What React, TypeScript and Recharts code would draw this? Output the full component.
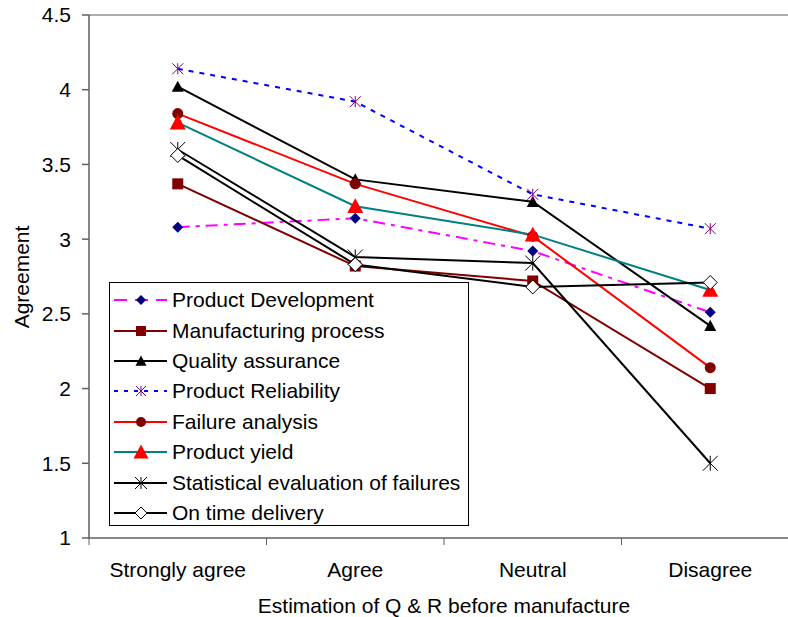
import React from "react";
import { LineChart, Line, XAxis, YAxis, ReferenceLine } from "recharts";

const categories = ["Strongly agree", "Agree", "Neutral", "Disagree"];
const yTicks = [1, 1.5, 2, 2.5, 3, 3.5, 4, 4.5];

const productDevelopment = [3.08, 3.14, 2.92, 2.51];
const manufacturingProcess = [3.37, 2.82, 2.72, 2.0];
const qualityAssurance = [4.02, 3.4, 3.25, 2.42];
const productReliability = [4.14, 3.92, 3.3, 3.07];
const failureAnalysis = [3.84, 3.37, 3.02, 2.14];
const productYield = [3.78, 3.22, 3.03, 2.66];
const statisticalEvaluation = [3.6, 2.88, 2.84, 1.5];
const onTimeDelivery = [3.56, 2.83, 2.68, 2.71];

const data = categories.map((name, i) => ({
  name,
  dev: productDevelopment[i],
  manuf: manufacturingProcess[i],
  quality: qualityAssurance[i],
  reliab: productReliability[i],
  failure: failureAnalysis[i],
  yieldv: productYield[i],
  stat: statisticalEvaluation[i],
  ontime: onTimeDelivery[i],
}));

const FONT = "'Liberation Sans', Arial, sans-serif";
const FS = 21;
const W = 800;
const H = 617;
const LEFT = 89;
const RIGHT = 1;
const BAND = (W - LEFT - RIGHT) / categories.length;

type Shape = "diamond" | "square" | "triangle" | "star" | "circle" | "xstar" | "odiamond";

function Marker({ shape, cx, cy, size, fill, stroke }: { shape: Shape; cx: number; cy: number; size: number; fill: string; stroke?: string }) {
  const h = size / 2;
  switch (shape) {
    case "diamond":
      return <polygon points={`${cx},${cy - h} ${cx + h},${cy} ${cx},${cy + h} ${cx - h},${cy}`} fill={fill} />;
    case "odiamond":
      return <polygon points={`${cx},${cy - h} ${cx + h},${cy} ${cx},${cy + h} ${cx - h},${cy}`} fill="#fff" stroke={stroke} strokeWidth={1} />;
    case "square":
      return <rect x={cx - h} y={cy - h} width={size} height={size} fill={fill} />;
    case "triangle":
      return <polygon points={`${cx},${cy - h} ${cx + h},${cy + h * 0.85} ${cx - h},${cy + h * 0.85}`} fill={fill} />;
    case "circle":
      return <circle cx={cx} cy={cy} r={h} fill={fill} />;
    case "star":
    case "xstar":
      return (
        <g stroke={fill} strokeWidth={1}>
          <line x1={cx - h} y1={cy - h} x2={cx + h} y2={cy + h} />
          <line x1={cx - h} y1={cy + h} x2={cx + h} y2={cy - h} />
          <line x1={cx} y1={cy - h} x2={cx} y2={cy + h} />
        </g>
      );
  }
  return null;
}

const series = [
  { key: "dev", label: "Product Development", color: "#FF00FF", dash: "12 6 4 6", lDash: "13 8", shape: "diamond" as Shape, mColor: "#000080", size: 11, lSize: 10 },
  { key: "manuf", label: "Manufacturing process", color: "#800000", dash: undefined, lDash: undefined, shape: "square" as Shape, mColor: "#800000", size: 11, lSize: 10 },
  { key: "quality", label: "Quality assurance", color: "#000000", dash: undefined, lDash: undefined, shape: "triangle" as Shape, mColor: "#000000", size: 12, lSize: 11 },
  { key: "reliab", label: "Product Reliability", color: "#0000FF", dash: "5 6", lDash: "4 6", shape: "star" as Shape, mColor: "#800080", size: 11, lSize: 10 },
  { key: "failure", label: "Failure analysis", color: "#FF0000", dash: undefined, lDash: undefined, shape: "circle" as Shape, mColor: "#800000", size: 11, lSize: 10 },
  { key: "yieldv", label: "Product yield", color: "#008080", dash: undefined, lDash: undefined, shape: "triangle" as Shape, mColor: "#FF0000", size: 16, lSize: 15 },
  { key: "stat", label: "Statistical evaluation of failures", color: "#000000", dash: undefined, lDash: undefined, shape: "xstar" as Shape, mColor: "#000000", size: 15, lSize: 12 },
  { key: "ontime", label: "On time delivery", color: "#000000", dash: undefined, lDash: undefined, shape: "odiamond" as Shape, mColor: "#000000", size: 14, lSize: 12 },
];

function XTick(props: any) {
  const { x, y, payload } = props;
  return (
    <g>
      <line x1={x - BAND / 2} y1={y} x2={x - BAND / 2} y2={y + 7} stroke="#606060" />
      <text x={x} y={y + 39} textAnchor="middle" fontSize={FS} fontFamily={FONT} fill="#000">
        {payload.value}
      </text>
    </g>
  );
}

function LegendBox() {
  return (
    <div
      style={{
        position: "absolute",
        left: 109,
        top: 282,
        width: 360,
        height: 244,
        border: "1px solid #000",
        background: "#fff",
        boxSizing: "border-box",
        paddingTop: 2,
      }}
    >
      {series.map((s) => (
        <div key={s.key} style={{ height: 30.4, display: "flex", alignItems: "center" }}>
          <svg width={62} height={24} style={{ flex: "none" }}>
            <line x1={4} y1={12} x2={57} y2={12} stroke={s.color} strokeWidth={2} strokeDasharray={s.lDash} />
            <Marker shape={s.shape} cx={31} cy={12} size={s.lSize} fill={s.mColor} stroke={s.mColor} />
          </svg>
          <span style={{ fontFamily: FONT, fontSize: FS, color: "#000", whiteSpace: "nowrap" }}>{s.label}</span>
        </div>
      ))}
    </div>
  );
}

export default function App() {
  return (
    <div style={{ position: "absolute", left: 0, top: 0, width: 788, height: 617, overflow: "hidden", background: "#fff" }}>
      <LineChart width={W} height={H} data={data} margin={{ top: 15, right: RIGHT, bottom: 0, left: 0 }}>
        <ReferenceLine y={4.5} stroke="#909090" strokeWidth={1.5} />
        <XAxis
          dataKey="name"
          scale="band"
          height={79}
          stroke="#606060"
          strokeWidth={1.5}
          tickLine={false}
          tickSize={0}
          tickMargin={0}
          tick={<XTick />}
          interval={0}
          label={{ value: "Estimation of Q & R before manufacture", position: "insideBottom", offset: 4, fontSize: FS, fontFamily: FONT, fill: "#000" }}
        />
        <YAxis
          width={LEFT}
          domain={[1, 4.5]}
          ticks={yTicks}
          interval={0}
          stroke="#606060"
          strokeWidth={1.5}
          tickSize={7}
          tickMargin={11}
          tick={{ fontSize: FS, fontFamily: FONT, fill: "#000" }}
          label={{
            content: () => (
              <text x={0} y={0} transform="translate(29,277) rotate(-90)" textAnchor="middle" fontSize={FS} fontFamily={FONT} fill="#000">
                Agreement
              </text>
            ),
          }}
        />
        {series.map((s) => (
          <Line
            key={s.key}
            dataKey={s.key}
            stroke={s.color}
            strokeWidth={2}
            strokeDasharray={s.dash}
            isAnimationActive={false}
            dot={(p: any) => (
              <g key={`${s.key}-${p.index}`}>
                <Marker shape={s.shape} cx={p.cx} cy={p.cy} size={s.size} fill={s.mColor} stroke={s.mColor} />
              </g>
            )}
            activeDot={false}
          />
        ))}
      </LineChart>
      <LegendBox />
    </div>
  );
}
